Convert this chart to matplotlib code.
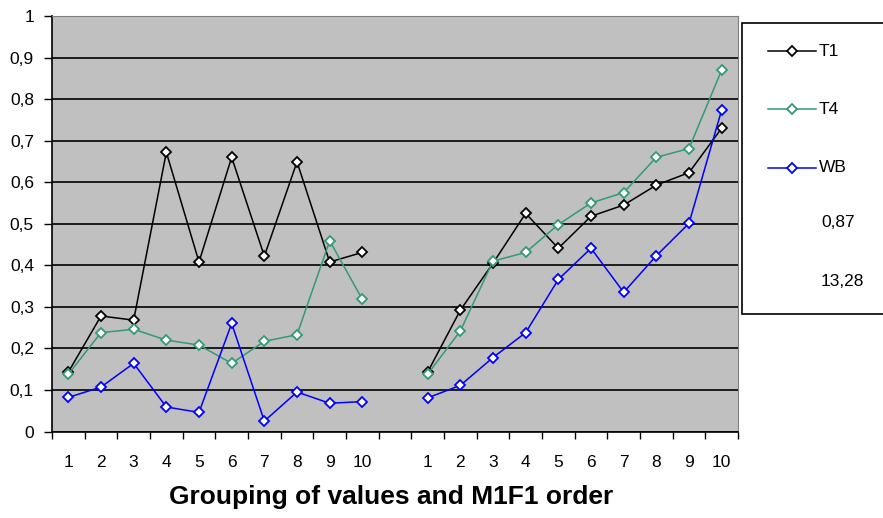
import numpy as np
import matplotlib.pyplot as plt
from matplotlib.lines import Line2D
from matplotlib.patches import Rectangle

plt.rcParams['font.family'] = ['Liberation Sans', 'DejaVu Sans']

# two groups of 10, one empty slot between them
group_labels = ['1', '2', '3', '4', '5', '6', '7', '8', '9', '10']

t1_a = [0.143, 0.278, 0.268, 0.672, 0.408, 0.660, 0.422, 0.649, 0.408, 0.431]
t4_a = [0.138, 0.238, 0.246, 0.220, 0.208, 0.164, 0.217, 0.233, 0.459, 0.318]
wb_a = [0.082, 0.107, 0.164, 0.059, 0.046, 0.260, 0.025, 0.095, 0.068, 0.072]

t1_b = [0.143, 0.292, 0.405, 0.525, 0.441, 0.518, 0.545, 0.593, 0.623, 0.730]
t4_b = [0.138, 0.242, 0.410, 0.431, 0.498, 0.550, 0.575, 0.660, 0.681, 0.870]
wb_b = [0.081, 0.111, 0.178, 0.238, 0.366, 0.441, 0.335, 0.423, 0.501, 0.774]

series = [('T1', t1_a, t1_b, '#000000'),
          ('T4', t4_a, t4_b, '#339977'),
          ('WB', wb_a, wb_b, '#0000FF')]
extra_legend = ['0,87', '13,28']

W, H = 883, 518
fig = plt.figure(figsize=(W / 100, H / 100), dpi=100)
ax = fig.add_axes([52 / W, 1 - 431.5 / H, (738 - 52) / W, (431.5 - 16) / H])
ax.set_facecolor('#C0C0C0')

xa = np.arange(10)
xb = np.arange(11, 21)
for name, a, b, col in series:
    for xs, ys in ((xa, a), (xb, b)):
        ax.plot(xs, ys, color=col, lw=1.1, marker='D', ms=5,
                mfc='white', mec=col, mew=1.3, zorder=3)

ax.set_xlim(-0.5, 20.5)
ax.set_ylim(0, 1)
yt = np.round(np.arange(0, 1.01, 0.1), 1)
ax.set_yticks(yt)
ax.set_yticklabels(['0' if v == 0 else ('1' if v == 1 else f'{v:.1f}'.replace('.', ',')) for v in yt])
ax.yaxis.grid(True, color='black', lw=1.2)
ax.set_axisbelow(True)

ax.set_xticks(list(xa) + list(xb))
ax.set_xticklabels(group_labels + group_labels)
ax.set_xticks(np.arange(-0.5, 21, 1), minor=True)
ax.tick_params(axis='x', which='major', length=0, pad=17, labelsize=12.5)
ax.tick_params(axis='x', which='minor', length=5, width=1, direction='out')
ax.tick_params(axis='y', length=6, width=1, direction='out', labelsize=12.5, pad=7)

for s in ('top', 'right'):
    ax.spines[s].set_color('#808080')
for s in ('left', 'bottom'):
    ax.spines[s].set_color('black')
    ax.spines[s].set_linewidth(1.2)

fig.text(391 / W, 1 - 497 / H, 'Grouping of values and M1F1 order',
         ha='center', va='center', fontsize=19, fontweight='bold')

# legend box on the right
fig.add_artist(Rectangle((742 / W, 1 - 314 / H), 150 / W, (314 - 23) / H,
                         transform=fig.transFigure, facecolor='white',
                         edgecolor='black', lw=1.2, clip_on=False))
ly = [51, 109, 168]
for (name, a, b, col), y in zip(series, ly):
    fig.add_artist(Line2D([768 / W, 816 / W], [1 - y / H, 1 - y / H],
                          transform=fig.transFigure, color=col, lw=1.1))
    fig.add_artist(Line2D([792 / W], [1 - y / H], transform=fig.transFigure,
                          marker='D', ms=5, mfc='white', mec=col, mew=1.3, color=col))
    fig.text(819 / W, 1 - y / H, name, ha='left', va='center', fontsize=12.5)
for txt, y in zip(extra_legend, [223, 282]):
    fig.text(821 / W, 1 - y / H, txt, ha='left', va='center', fontsize=12.5)

fig.savefig('out.png', dpi=100)
